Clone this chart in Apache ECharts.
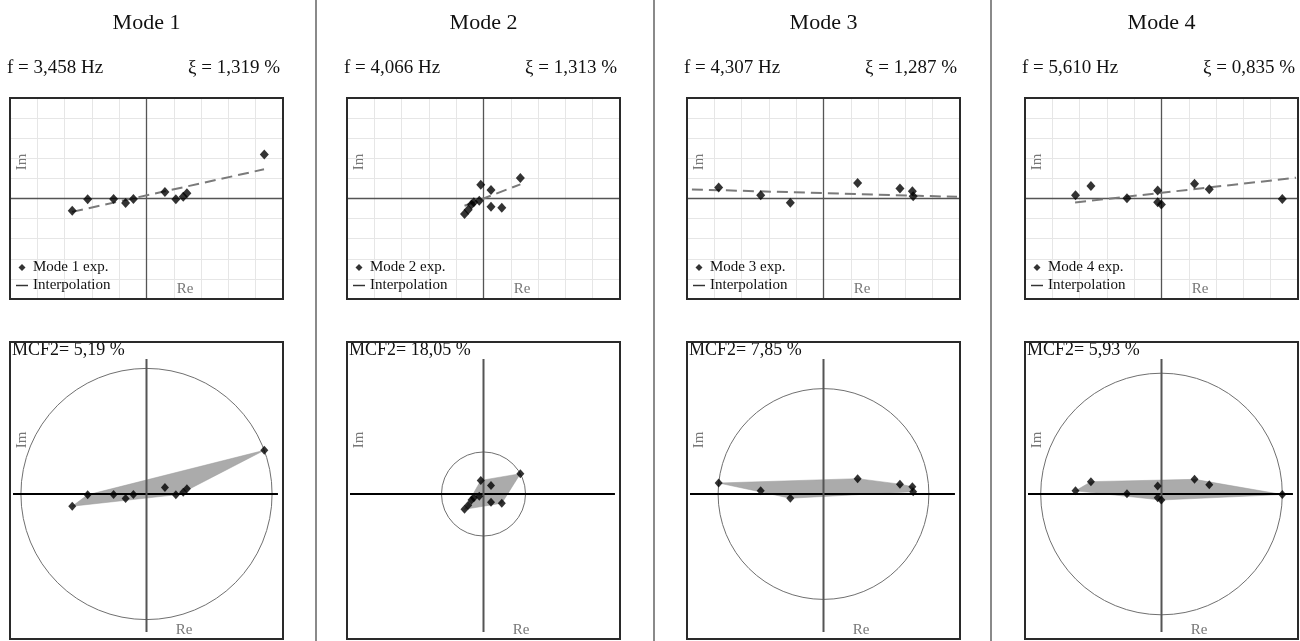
<!DOCTYPE html>
<html>
<head>
<meta charset="utf-8">
<script src="https://cdn.jsdelivr.net/npm/echarts@6/dist/echarts.min.js"></script>
<style>
html,body{margin:0;padding:0;background:#fff;}
#chart{width:1300px;height:641px;}
</style>
</head>
<body>
<div id="chart"></div>
<script>
// ---- data (complex mode shape components, Re / Im) ----
const modeNames = ['Mode 1', 'Mode 2', 'Mode 3', 'Mode 4'];
const freqLabels = ['f = 3,458 Hz', 'f = 4,066 Hz', 'f = 4,307 Hz', 'f = 5,610 Hz'];
const dampLabels = ['ξ = 1,319 %', 'ξ = 1,313 %', 'ξ = 1,287 %', 'ξ = 0,835 %'];
const mcfLabels = ['MCF2= 5,19 %', 'MCF2= 18,05 %', 'MCF2= 7,85 %', 'MCF2= 5,93 %'];

const mode1Re = [-0.544, -0.431, -0.241, -0.153, -0.096, 0.135, 0.215, 0.269, 0.296, 0.863];
const mode1Im = [-0.089, -0.006, -0.004, -0.033, -0.004, 0.047, -0.006, 0.013, 0.039, 0.319];
const mode2Re = [0.270, -0.020, 0.055, -0.031, -0.071, -0.088, -0.112, -0.139, 0.055, 0.134];
const mode2Im = [0.148, 0.099, 0.062, -0.016, -0.028, -0.044, -0.082, -0.112, -0.060, -0.067];
const mode3Re = [-0.768, -0.460, -0.243, 0.250, 0.560, 0.651, 0.657];
const mode3Im = [0.080, 0.023, -0.031, 0.112, 0.072, 0.053, 0.017];
const mode4Re = [-0.630, -0.517, -0.253, -0.028, -0.028, -0.001, 0.242, 0.350, 0.885];
const mode4Im = [0.023, 0.090, 0.001, 0.058, -0.028, -0.044, 0.107, 0.067, -0.004];

// interpolation line end points [Re, Im]
const interp1 = [[-0.545, -0.097], [0.861, 0.212]];
const interp2 = [[-0.139, -0.053], [0.270, 0.103]];
const interp3 = [[-0.964, 0.066], [0.978, 0.012]];
const interp4 = [[-0.633, -0.029], [0.985, 0.151]];

const allRe = [mode1Re, mode2Re, mode3Re, mode4Re];
const allIm = [mode1Im, mode2Im, mode3Im, mode4Im];
const allInterp = [interp1, interp2, interp3, interp4];

// ---- layout ----
const boxLefts = [10, 347, 687, 1025];
const boxW = 273;
const topY = 98, topH = 201;
const botY = 342, botH = 297;
const separatorsX = [316, 654, 991];
const FONT = '"Liberation Serif", "Times New Roman", serif';

function hull(pts) {
  const p = pts.slice().sort((a, b) => a[0] - b[0] || a[1] - b[1]);
  const cross = (o, a, b) => (a[0] - o[0]) * (b[1] - o[1]) - (a[1] - o[1]) * (b[0] - o[0]);
  const lower = [];
  for (const q of p) { while (lower.length >= 2 && cross(lower[lower.length - 2], lower[lower.length - 1], q) <= 0) lower.pop(); lower.push(q); }
  const upper = [];
  for (const q of p.slice().reverse()) { while (upper.length >= 2 && cross(upper[upper.length - 2], upper[upper.length - 1], q) <= 0) upper.pop(); upper.push(q); }
  upper.pop(); lower.pop();
  return lower.concat(upper);
}

const grids = [], xAxes = [], yAxes = [], series = [], legends = [], graphics = [];

modeNames.forEach((name, i) => {
  const L = boxLefts[i];
  const pts = allRe[i].map((r, k) => [r, allIm[i][k]]);
  const R = Math.max(...pts.map(p => Math.hypot(p[0], p[1])));
  const hullPts = hull(pts);
  const gTop = 2 * i, gBot = 2 * i + 1;

  grids.push({ left: L, top: topY, width: boxW, height: topH, show: false });
  grids.push({ left: L, top: botY, width: boxW, height: botH, show: false });

  xAxes.push({ type: 'value', gridIndex: gTop, min: -1, max: 1, interval: 0.2,
    axisLine: { show: true, onZero: true, lineStyle: { color: '#555', width: 1.3 } },
    axisTick: { show: false }, axisLabel: { show: false },
    splitLine: { show: true, lineStyle: { color: '#e6e6e6', width: 1 } } });
  yAxes.push({ type: 'value', gridIndex: gTop, min: -0.73, max: 0.73, interval: 0.146,
    axisLine: { show: true, onZero: true, lineStyle: { color: '#555', width: 1.3 } },
    axisTick: { show: false }, axisLabel: { show: false },
    splitLine: { show: true, lineStyle: { color: '#e6e6e6', width: 1 } } });
  xAxes.push({ type: 'value', gridIndex: gBot, min: -1, max: 1,
    axisLine: { show: false }, axisTick: { show: false }, axisLabel: { show: false }, splitLine: { show: false } });
  yAxes.push({ type: 'value', gridIndex: gBot, min: -1.058, max: 1.109,
    axisLine: { show: false }, axisTick: { show: false }, axisLabel: { show: false }, splitLine: { show: false } });

  // top plot
  series.push({ type: 'line', name: 'Interpolation', xAxisIndex: gTop, yAxisIndex: gTop, data: allInterp[i],
    symbol: 'none', lineStyle: { color: '#7a7a7a', width: 2, type: [11, 6] }, itemStyle: { color: '#333' }, z: 4, silent: true });
  series.push({ type: 'scatter', name: name + ' exp.', xAxisIndex: gTop, yAxisIndex: gTop, data: pts,
    symbol: 'diamond', symbolSize: [9, 10], itemStyle: { color: '#000' }, z: 5 });

  // bottom plot
  series.push({ type: 'custom', name: 'hull' + i, xAxisIndex: gBot, yAxisIndex: gBot, data: [[0, 0]], z: 1, silent: true,
    renderItem: (params, api) => ({ type: 'polygon', shape: { points: hullPts.map(p => api.coord(p)) }, style: { fill: '#ababab', stroke: '#9a9a9a', lineWidth: 0.5 } }) });
  series.push({ type: 'custom', name: 'circle' + i, xAxisIndex: gBot, yAxisIndex: gBot, data: [[0, 0]], z: 2, silent: true,
    renderItem: (params, api) => { const c = api.coord([0, 0]); const r = api.size([R, 0])[0];
      return { type: 'circle', shape: { cx: c[0], cy: c[1], r: r }, style: { fill: 'none', stroke: '#707070', lineWidth: 1 } }; } });
  series.push({ type: 'line', name: 'reAxis' + i, xAxisIndex: gBot, yAxisIndex: gBot, data: [[-0.978, 0], [0.963, 0]],
    symbol: 'none', lineStyle: { color: '#000', width: 2 }, z: 3, silent: true });
  series.push({ type: 'line', name: 'imAxis' + i, xAxisIndex: gBot, yAxisIndex: gBot, data: [[0, 0.985], [0, -1.007]],
    symbol: 'none', lineStyle: { color: '#555', width: 2 }, z: 3, silent: true });
  series.push({ type: 'scatter', name: name + ' exp.', xAxisIndex: gBot, yAxisIndex: gBot, data: pts,
    symbol: 'diamond', symbolSize: [8, 9], itemStyle: { color: '#000' }, z: 5 });

  legends.push({ left: L + 6, top: 260, orient: 'vertical', itemWidth: 12, itemHeight: 7, itemGap: 3, padding: 0,
    selectedMode: false, itemStyle: { borderWidth: 0 },
    textStyle: { fontFamily: FONT, fontSize: 15, color: '#111', lineHeight: 15 },
    data: [ { name: name + ' exp.', icon: 'path://M5,0L10,5L5,10L0,5Z', itemStyle: { color: '#000' } },
            { name: 'Interpolation', icon: 'path://M0,0H13V1.6H0Z', itemStyle: { color: '#333' } } ] });

  // frames
  graphics.push({ type: 'rect', z: 100, shape: { x: L, y: topY, width: boxW, height: topH }, style: { fill: 'none', stroke: '#2a2a2a', lineWidth: 2 } });
  graphics.push({ type: 'rect', z: 100, shape: { x: L, y: botY, width: boxW, height: botH }, style: { fill: 'none', stroke: '#2a2a2a', lineWidth: 2 } });

  // texts
  const cx = L + boxW / 2;
  graphics.push({ type: 'text', x: cx, y: 23, style: { text: name, font: '22px ' + FONT, fill: '#111', align: 'center', verticalAlign: 'middle' } });
  graphics.push({ type: 'text', x: L - 3, y: 68, style: { text: freqLabels[i], font: '19px ' + FONT, fill: '#111', align: 'left', verticalAlign: 'middle' } });
  graphics.push({ type: 'text', x: L + boxW - 3, y: 68, style: { text: dampLabels[i], font: '19px ' + FONT, fill: '#111', align: 'right', verticalAlign: 'middle' } });
  graphics.push({ type: 'text', x: L + 2, y: botY - 1, style: { text: mcfLabels[i], font: '18px ' + FONT, fill: '#111', align: 'left', verticalAlign: 'top' } });
  graphics.push({ type: 'text', x: L + 12, y: topY + 64, rotation: Math.PI / 2, style: { text: 'Im', font: '15px ' + FONT, fill: '#777', align: 'center', verticalAlign: 'middle' } });
  graphics.push({ type: 'text', x: L + 12, y: botY + 98, rotation: Math.PI / 2, style: { text: 'Im', font: '15px ' + FONT, fill: '#777', align: 'center', verticalAlign: 'middle' } });
  graphics.push({ type: 'text', x: L + 175, y: topY + 191, style: { text: 'Re', font: '15px ' + FONT, fill: '#777', align: 'center', verticalAlign: 'middle' } });
  graphics.push({ type: 'text', x: L + 174, y: botY + 288, style: { text: 'Re', font: '15px ' + FONT, fill: '#777', align: 'center', verticalAlign: 'middle' } });
});

separatorsX.forEach(x => graphics.push({ type: 'line', shape: { x1: x, y1: 0, x2: x, y2: 641 }, style: { stroke: '#8a8a8a', lineWidth: 2 } }));

const chart = echarts.init(document.getElementById('chart'), null, { renderer: 'canvas' });
chart.setOption({
  animation: false,
  backgroundColor: '#fff',
  grid: grids, xAxis: xAxes, yAxis: yAxes,
  legend: legends,
  series: series,
  graphic: graphics
});
</script>
</body>
</html>
